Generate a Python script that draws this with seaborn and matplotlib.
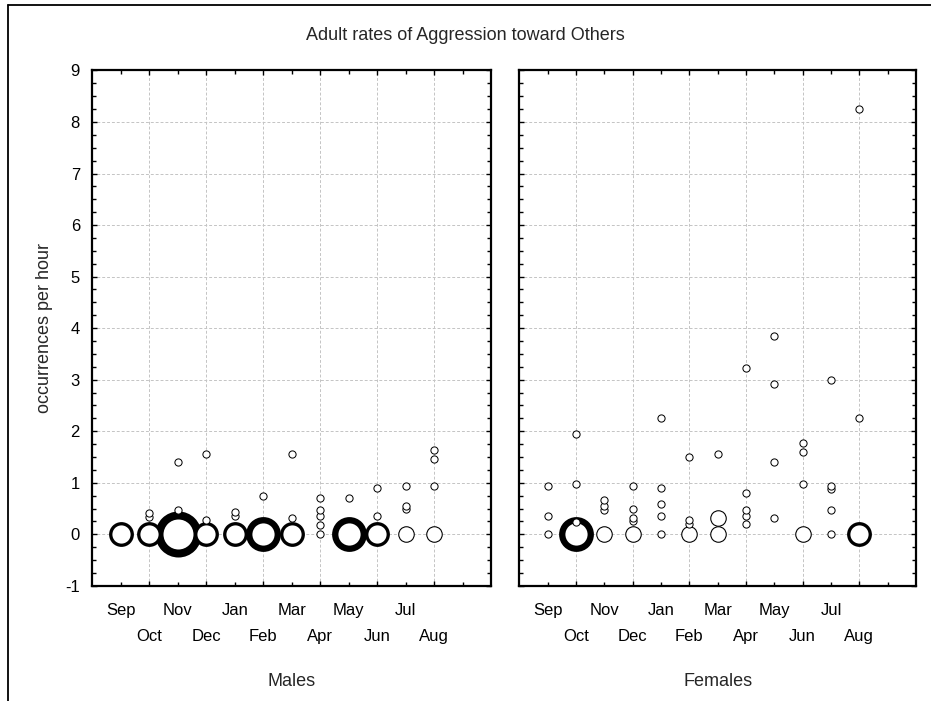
import matplotlib
matplotlib.use("Agg")
import matplotlib.pyplot as plt
import pandas as pd
import seaborn as sns
from matplotlib.lines import Line2D
from matplotlib.ticker import FixedLocator, FixedFormatter, MultipleLocator

# ---- data -------------------------------------------------------------
months = ["Sep", "Oct", "Nov", "Dec", "Jan", "Feb",
          "Mar", "Apr", "May", "Jun", "Jul", "Aug"]

# month index (Sep = 1 ... Aug = 12), rate per hour, number of animals sharing that rate
male_month = [1, 2, 2, 2, 3, 3, 3, 4, 4, 4, 5, 5, 5, 6, 6, 7, 7, 7,
              8, 8, 8, 8, 8, 9, 9, 10, 10, 10, 11, 11, 11, 11, 12, 12, 12, 12]
male_rate = [0, 0, 0.33, 0.41, 0, 0.47, 1.40, 0, 0.28, 1.56, 0, 0.35, 0.43,
             0, 0.74, 0, 0.31, 1.56, 0, 0.19, 0.35, 0.47, 0.70, 0, 0.70,
             0, 0.35, 0.89, 0, 0.50, 0.55, 0.94, 0, 0.94, 1.47, 1.63]
male_count = [3, 3, 1, 1, 5, 1, 1, 3, 1, 1, 3, 1, 1, 4, 1, 3, 1, 1,
              1, 1, 1, 1, 1, 4, 1, 3, 1, 1, 2, 1, 1, 1, 2, 1, 1, 1]

female_month = [1, 1, 1, 2, 2, 2, 2, 3, 3, 3, 3, 4, 4, 4, 4, 4,
                5, 5, 5, 5, 5, 6, 6, 6, 6, 7, 7, 7, 8, 8, 8, 8, 8,
                9, 9, 9, 9, 10, 10, 10, 10, 11, 11, 11, 11, 11, 12, 12, 12]
female_rate = [0, 0.35, 0.94, 0, 0.23, 0.97, 1.94, 0, 0.47, 0.55, 0.66,
               0, 0.26, 0.32, 0.50, 0.94, 0, 0.35, 0.59, 0.89, 2.25,
               0, 0.20, 0.28, 1.51, 0, 0.31, 1.56, 0.20, 0.35, 0.47, 0.81, 3.22,
               0.32, 1.40, 2.91, 3.84, 0, 0.97, 1.59, 1.78,
               0, 0.47, 0.88, 0.94, 2.99, 0, 2.25, 8.26]
female_count = [1, 1, 1, 4, 1, 1, 1, 2, 1, 1, 1, 2, 1, 1, 1, 1,
                1, 1, 1, 1, 1, 2, 1, 1, 1, 2, 2, 1, 1, 1, 1, 1, 1,
                1, 1, 1, 1, 2, 1, 1, 1, 1, 1, 1, 1, 1, 3, 1, 1]

# ---- bubble appearance by count (pixels at 100 dpi) --------------------
DPI = 100
PX2PT = 72.0 / DPI
BUBBLE_D = {1: 7.2, 2: 15.5, 3: 21.5, 4: 28.5, 5: 38.0}
BUBBLE_EDGE = {1: 1.0, 2: 1.1, 3: 3.3, 4: 6.3, 5: 8.0}

sns.set_style("white")
plt.rcParams["font.family"] = ["Liberation Sans", "DejaVu Sans"]
plt.rcParams["font.size"] = 12
plt.rcParams["axes.unicode_minus"] = False

W, H = 931, 701
fig = plt.figure(figsize=(W / DPI, H / DPI), dpi=DPI)
fig.patch.set_facecolor("white")

y_top, y_bot = 70.4, 585.9
ax_m = fig.add_axes([92.4 / W, (H - y_bot) / H, (491.0 - 92.4) / W, (y_bot - y_top) / H])
ax_f = fig.add_axes([519.3 / W, (H - y_bot) / H, (916.0 - 519.3) / W, (y_bot - y_top) / H])

panels = [
    (ax_m, "Males", pd.DataFrame({"month": male_month, "rate": male_rate, "n": male_count})),
    (ax_f, "Females", pd.DataFrame({"month": female_month, "rate": female_rate, "n": female_count})),
]

for ax, label, df in panels:
    # larger bubbles first so single observations sit on top
    for n in sorted(df["n"].unique(), reverse=True):
        sub = df[df["n"] == n]
        sns.scatterplot(data=sub, x="month", y="rate", ax=ax,
                        s=(BUBBLE_D[n] * PX2PT) ** 2,
                        color="white", edgecolor="black",
                        linewidth=BUBBLE_EDGE[n] * PX2PT,
                        legend=False, zorder=3, clip_on=False)

    ax.set_xlim(0, 14)
    ax.set_ylim(-1, 9)

    ax.xaxis.set_major_locator(FixedLocator([2, 4, 6, 8, 10, 12]))
    ax.xaxis.set_major_formatter(FixedFormatter(months[1::2]))
    ax.xaxis.set_minor_locator(FixedLocator([1, 3, 5, 7, 9, 11, 13]))
    ax.xaxis.set_minor_formatter(FixedFormatter(months[0::2] + [""]))
    ax.yaxis.set_major_locator(MultipleLocator(1))
    ax.yaxis.set_minor_locator(MultipleLocator(0.25))

    ax.grid(which="major", color="#c4c4c4", linestyle=(0, (3, 2)), linewidth=0.7)
    ax.set_axisbelow(True)

    ax.tick_params(which="both", direction="in", top=True, right=True,
                   bottom=True, left=True, color="black", width=1.0,
                   labelsize=12, labelcolor="black")
    ax.tick_params(which="major", length=3.5)
    ax.tick_params(which="minor", length=3.0)
    ax.tick_params(axis="x", which="minor", labelbottom=True, pad=12.5)
    ax.tick_params(axis="x", which="major", pad=31)
    ax.tick_params(axis="y", which="major", pad=9)

    for sp in ax.spines.values():
        sp.set_visible(True)
        sp.set_color("black")
        sp.set_linewidth(1.6)

    ax.set_xlabel(label, fontsize=13, labelpad=21)
    ax.set_ylabel("")

ax_f.tick_params(axis="y", labelleft=False)
ax_m.set_ylabel("occurrences per hour", fontsize=13, labelpad=9)

fig.suptitle("Adult rates of Aggression toward Others", fontsize=13,
             x=0.5, y=1 - 35 / H, va="center")

# page frame along the top and left edges
fx, fy = 7.5 / W, 1 - 5 / H
fig.add_artist(Line2D([fx, 1.0], [fy, fy], transform=fig.transFigure,
                      color="black", linewidth=1.3))
fig.add_artist(Line2D([fx, fx], [fy, 0.0], transform=fig.transFigure,
                      color="black", linewidth=1.3))

fig.savefig("out.png", dpi=DPI)
